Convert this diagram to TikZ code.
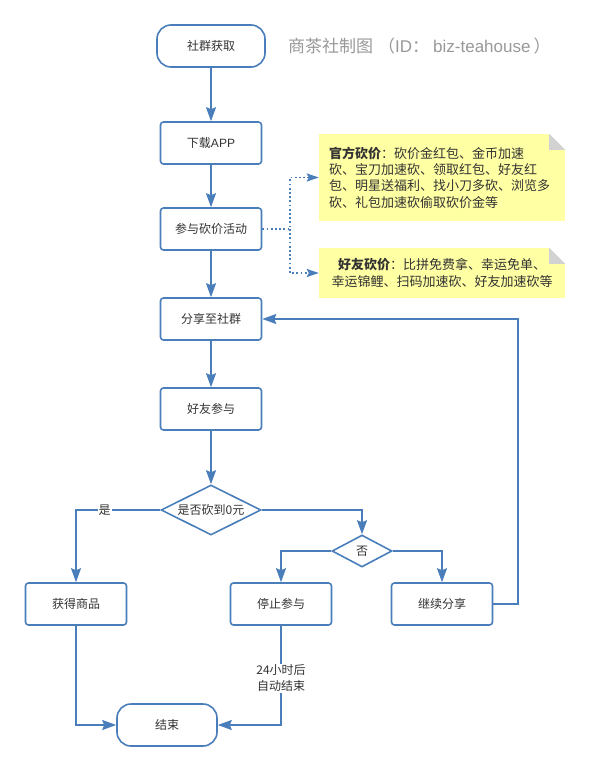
\documentclass[tikz,border=0pt]{standalone}
\usepackage{fontspec}
\setmainfont{Noto Sans CJK SC}
\newfontfamily\latf{Liberation Sans}
\usetikzlibrary{arrows.meta,shapes.geometric}
\definecolor{lb}{HTML}{4A7EBB}
\definecolor{tx}{HTML}{333333}
\definecolor{ny}{HTML}{FFFFA3}
\definecolor{fg}{HTML}{D2D2D2}
\definecolor{tg}{HTML}{999999}
\begin{document}
\begin{tikzpicture}[x=1pt,y=-1pt,
  font=\fontsize{12pt}{16pt}\selectfont, text=tx,
  box/.style={draw=lb,line width=1.6pt,rounded corners=3pt,minimum width=101pt,minimum height=42pt,inner sep=0pt,fill=white},
  term/.style={box,rounded corners=14pt},
  dia/.style={diamond,draw=lb,line width=1.6pt,aspect=2,inner sep=0pt,fill=white},
  arr/.style={draw=lb,line width=1.6pt,-{Stealth[length=14pt,width=10pt,inset=2pt]}},
  dotarr/.style={draw=lb,line width=1.8pt,dash pattern=on 1.8pt off 2.4pt,-{Stealth[length=12pt,width=8pt,inset=2pt]}},
  note/.style={fill=ny,inner sep=0pt,font=\fontsize{13pt}{16.3pt}\selectfont},
  fold/.style={fill=fg},
  lbl/.style={fill=white,inner sep=1pt}
]
\useasboundingbox (0,0) rectangle (589,771);
\fill[white] (0,0) rectangle (589,771);

\node[term,minimum width=108pt] (start) at (211,46) {社群获取};
\node[anchor=west,text=tg,font=\fontsize{17pt}{19pt}\selectfont,inner sep=0pt] (title) at (288,46)
  {商茶社制图\hspace{5pt}（{\latf ID}：\hspace{4pt}{\latf biz-teahouse}\hspace{3pt}）};
\node[box] (dl) at (211,143) {下载{\latf APP}};
\node[box] (act) at (211,229) {参与砍价活动};
\node[box] (share) at (211,319) {分享至社群};
\node[box] (friend) at (211,409) {好友参与};
\node[dia,minimum width=100pt,minimum height=50pt] (d1) at (211,510) {是否砍到0元};
\node[dia,minimum width=60pt,minimum height=32pt] (d2) at (362,551) {否};
\node[box] (get) at (76,604) {获得商品};
\node[box] (stop) at (281,604) {停止参与};
\node[box] (cont) at (442,604) {继续分享};
\node[term,minimum width=100pt] (end) at (167,725) {结束};

% notes
\node[note,minimum width=246pt,minimum height=87pt,text width=226pt,align=left] (n1) at (442,177.5)
  {\textbf{官方砍价}：砍价金红包、金币加速\\砍、宝刀加速砍、领取红包、好友红\\包、明星送福利、找小刀多砍、浏览多\\砍、礼包加速砍偷取砍价金等};
\fill[white] ([xshift=-16pt]n1.north east) -- (n1.north east) -- ([yshift=-16pt]n1.north east) -- cycle;
\fill[fold] ([xshift=-16pt]n1.north east) -- ([xshift=-16pt,yshift=-16pt]n1.north east) -- ([yshift=-16pt]n1.north east) -- cycle;
\node[note,minimum width=246pt,minimum height=50pt,align=center] (n2) at (442,273)
  {\textbf{好友砍价}：比拼免费拿、幸运免单、\\幸运锦鲤、扫码加速砍、好友加速砍等};
\fill[white] ([xshift=-16pt]n2.north east) -- (n2.north east) -- ([yshift=-16pt]n2.north east) -- cycle;
\fill[fold] ([xshift=-16pt]n2.north east) -- ([xshift=-16pt,yshift=-16pt]n2.north east) -- ([yshift=-16pt]n2.north east) -- cycle;

\coordinate (j) at (290,229);
\draw[dotarr] (act.east) -- (j) |- (n1.west);
\draw[dotarr] (j) |- (n2.west);

% connectors
\draw[arr] (start) -- (dl);
\draw[arr] (dl) -- (act);
\draw[arr] (act) -- (share);
\draw[arr] (share) -- (friend);
\draw[arr] (friend) -- (d1);
\draw[arr] (d1.west) -| node[pos=0.33,lbl] (yes) {是} (get.north);
\draw[arr] (d1.east) -| (d2.north);
\draw[arr] (d2.west) -| (stop.north);
\draw[arr] (d2.east) -| (cont.north);
\coordinate (r) at (518,604);
\draw[arr] (cont.east) -- (r) |- (share.east);
\draw[arr] (get.south) |- (end.west);
\draw[arr] (stop.south) |- node[pos=0.265,lbl,align=center] (lab) {24小时后\\自动结束} (end.east);
\end{tikzpicture}
\end{document}
